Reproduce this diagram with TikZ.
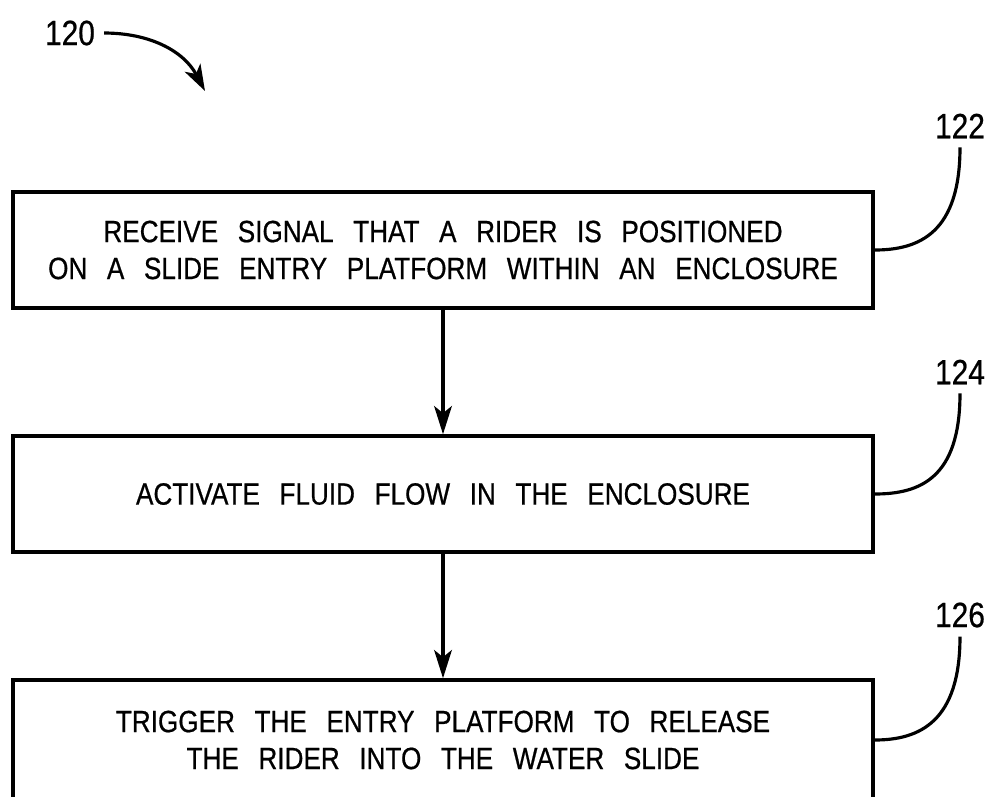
\documentclass[tikz,border=0pt]{standalone}
\usepackage{fontspec}
\setmainfont{Liberation Sans}[FakeStretch=0.85,WordSpace=2.7,FakeBold=0.6]
\usetikzlibrary{arrows.meta}
\tikzset{
  stepbox/.style={
    draw,
    line width=2pt,
    minimum width=17.2cm,
    minimum height=2.32cm,
    align=center,
    font=\fontsize{17.5}{21}\selectfont},
  refnum/.style={
    font=\fontsize{20}{24}\selectfont,
    inner sep=5pt},
  flow/.style={
    -{Stealth[length=16pt,width=10pt,inset=4pt]},
    line width=2.2pt},
  leader/.style={line width=1.8pt}
  }

\begin{document}
\begin{tikzpicture}[x=0.02cm,y=-0.02cm]
		\clip (0,0) rectangle (991,796);
		\node [refnum] (l120) at (70,33) {120};
		\coordinate (t120) at (205,91);
		\node [stepbox] (b1) at (443,250) {RECEIVE SIGNAL THAT A RIDER IS POSITIONED\\ON A SLIDE ENTRY PLATFORM WITHIN AN ENCLOSURE};
		\node [stepbox] (b2) at (443,494) {ACTIVATE FLUID FLOW IN THE ENCLOSURE};
		\node [stepbox, minimum height=2.4cm] (b3) at (443,740) {TRIGGER THE ENTRY PLATFORM TO RELEASE\\THE RIDER INTO THE WATER SLIDE};
		\node [refnum] (l122) at (960,126) {122};
		\node [refnum] (l124) at (960,372) {124};
		\node [refnum] (l126) at (960,615) {126};
		\draw [flow] (b1) to (b2);
		\draw [flow] (b2) to (b3);
		\draw [leader, -{Stealth[length=15pt,width=10pt,inset=4pt]}] (l120.east) to [out=0, in=118] (t120);
		\draw [leader] (l122.south) .. controls +(0,85) and +(45,0) .. (b1.east);
		\draw [leader] (l124.south) .. controls +(0,85) and +(45,0) .. (b2.east);
		\draw [leader] (l126.south) .. controls +(0,85) and +(45,0) .. (b3.east);
	\end{tikzpicture}
\end{document}
